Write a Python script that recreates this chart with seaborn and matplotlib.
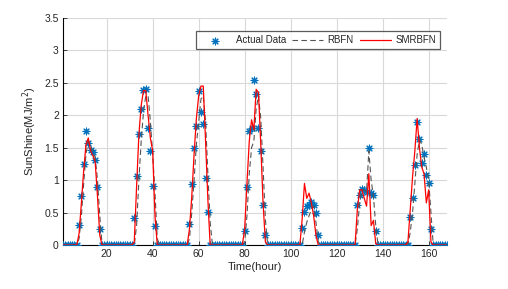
#!/usr/bin/env python3

import matplotlib
matplotlib.use("Agg")
import matplotlib.pyplot as plt
import numpy as np
import pandas as pd
import seaborn as sns

# one week, hourly (1..168), one row of 24 per day
hours = list(range(1, 169))

actual = [
    0, 0, 0, 0, 0, 0, 0, 0.31, 0.76, 1.25, 1.75, 1.57, 1.47, 1.43, 1.31, 0.89, 0.24, 0, 0, 0, 0, 0, 0, 0,
    0, 0, 0, 0, 0, 0, 0, 0.41, 1.06, 1.71, 2.09, 2.39, 2.40, 1.81, 1.45, 0.91, 0.30, 0, 0, 0, 0, 0, 0, 0,
    0, 0, 0, 0, 0, 0, 0, 0.33, 0.94, 1.49, 1.84, 2.37, 2.05, 1.86, 1.04, 0.51, 0, 0, 0, 0, 0, 0, 0, 0,
    0, 0, 0, 0, 0, 0, 0, 0.21, 0.89, 1.75, 1.80, 2.55, 2.33, 1.80, 1.45, 0.61, 0.15, 0, 0, 0, 0, 0, 0, 0,
    0, 0, 0, 0, 0, 0, 0, 0, 0.27, 0.51, 0.60, 0.62, 0.67, 0.62, 0.50, 0.15, 0, 0, 0, 0, 0, 0, 0, 0,
    0, 0, 0, 0, 0, 0, 0, 0, 0.62, 0.77, 0.87, 0.85, 0.82, 1.49, 0.80, 0.77, 0.21, 0, 0, 0, 0, 0, 0, 0,
    0, 0, 0, 0, 0, 0, 0, 0.44, 0.73, 1.24, 1.90, 1.64, 1.26, 1.41, 1.08, 0.95, 0.24, 0, 0, 0, 0, 0, 0, 0,
]

rbfn = [
    0, 0, 0, 0, 0, 0, 0, 0.10, 0.45, 0.95, 1.40, 1.60, 1.52, 1.45, 1.35, 1.00, 0.45, 0, 0, 0, 0, 0, 0, 0,
    0, 0, 0, 0, 0, 0, 0, 0, 0.30, 1.00, 1.60, 2.05, 2.30, 2.30, 1.90, 1.40, 0.80, 0.10, 0, 0, 0, 0, 0, 0,
    0, 0, 0, 0, 0, 0, 0, 0.10, 0.50, 1.00, 1.55, 1.90, 2.25, 2.30, 1.90, 1.10, 0.35, 0, 0, 0, 0, 0, 0, 0,
    0, 0, 0, 0, 0, 0, 0, 0.05, 0.45, 1.10, 1.50, 1.60, 2.10, 2.30, 1.95, 1.20, 0.40, 0, 0, 0, 0, 0, 0, 0,
    0, 0, 0, 0, 0, 0, 0, 0, 0, 0.20, 0.35, 0.45, 0.55, 0.60, 0.35, 0.05, 0, 0, 0, 0, 0, 0, 0, 0,
    0, 0, 0, 0, 0, 0, 0, 0, 0.25, 0.65, 0.85, 0.85, 0.82, 1.45, 1.00, 0.75, 0.30, 0, 0, 0, 0, 0, 0, 0,
    0, 0, 0, 0, 0, 0, 0, 0.20, 0.50, 0.95, 1.40, 1.62, 1.55, 1.35, 1.20, 1.00, 0.50, 0, 0, 0, 0, 0, 0, 0,
]

smrbfn = [
    0, 0, 0, 0, 0, 0, 0, 0.18, 0.65, 1.15, 1.55, 1.65, 1.45, 1.38, 1.28, 0.75, 0.15, 0, 0, 0, 0, 0, 0, 0,
    0, 0, 0, 0, 0, 0, 0, 0.05, 0.90, 1.70, 2.15, 2.38, 2.38, 2.00, 1.65, 1.45, 0.45, 0, 0, 0, 0, 0, 0, 0,
    0, 0, 0, 0, 0, 0, 0, 0.25, 0.75, 1.40, 1.95, 2.30, 2.45, 2.45, 1.60, 0.70, 0, 0, 0, 0, 0, 0, 0, 0,
    0, 0, 0, 0, 0, 0, 0, 0.25, 0.95, 1.60, 1.93, 1.78, 2.40, 2.35, 1.55, 0.65, 0.05, 0, 0, 0, 0, 0, 0, 0,
    0, 0, 0, 0, 0, 0, 0, 0, 0.40, 0.95, 0.72, 0.80, 0.65, 0.45, 0.15, 0, 0, 0, 0, 0, 0, 0, 0, 0,
    0, 0, 0, 0, 0, 0, 0, 0, 0.55, 0.85, 0.85, 0.72, 0.60, 1.10, 0.30, 0.38, 0.02, 0, 0, 0, 0, 0, 0, 0,
    0, 0, 0, 0, 0, 0, 0.05, 0.55, 1.05, 1.45, 1.95, 1.50, 1.20, 1.10, 0.65, 0.85, 0.05, 0, 0, 0, 0, 0, 0, 0,
]

df = pd.DataFrame({"hour": hours, "actual": actual, "rbfn": rbfn, "smrbfn": smrbfn})

sns.set_style("white")
plt.rcParams["font.family"] = ["Liberation Sans", "DejaVu Sans"]

fig = plt.figure(figsize=(5.08, 2.89), dpi=100)
ax = fig.add_axes([0.124, 0.152, 0.756, 0.786])

sns.scatterplot(data=df, x="hour", y="actual", ax=ax, marker=(8, 2, 0), s=24,
                color="#0072BD", linewidth=0.8, label="Actual Data", zorder=3)
sns.lineplot(data=df, x="hour", y="rbfn", ax=ax, color="#555555", linewidth=0.8,
             linestyle=(0, (5, 3)), label="RBFN", zorder=4)
sns.lineplot(data=df, x="hour", y="smrbfn", ax=ax, color="#FF0000", linewidth=0.9,
             label="SMRBFN", zorder=5)

ax.set_xlim(1, 168)
ax.set_ylim(0, 3.5)
ax.set_xticks(range(20, 161, 20))
ax.set_yticks(np.arange(0, 3.51, 0.5))
ax.set_yticklabels(["0", "0.5", "1", "1.5", "2", "2.5", "3", "3.5"])
ax.grid(True, color="#d9d9d9", linewidth=0.8)
ax.set_axisbelow(True)

for s in ["top", "right"]:
    ax.spines[s].set_visible(False)
for s in ["left", "bottom"]:
    ax.spines[s].set_color("black")
    ax.spines[s].set_linewidth(0.8)

ax.tick_params(direction="in", length=3, width=0.6, labelsize=7.5, pad=3,
               left=True, bottom=True)
ax.set_xlabel("Time(hour)", fontsize=8, labelpad=2)
ax.set_ylabel("SunShine(MJ/m$^2$)", fontsize=8, labelpad=4)

leg = ax.legend(loc="upper center", bbox_to_anchor=(0.664, 0.962), ncol=3,
                fontsize=7, frameon=True, fancybox=False, borderpad=0.4,
                handlelength=3.2, columnspacing=0.6, handletextpad=0.5)
leg.get_frame().set_edgecolor("#333333")
leg.get_frame().set_linewidth(0.9)

fig.savefig("out.png", dpi=100)
plt.close()
